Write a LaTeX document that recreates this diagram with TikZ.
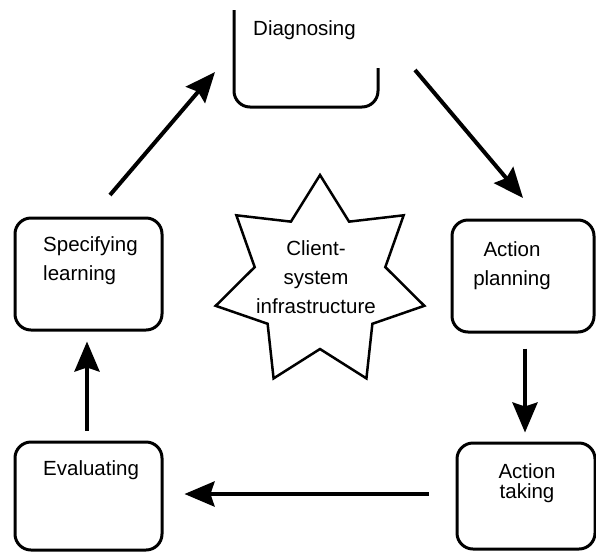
\documentclass[tikz,border=0pt]{standalone}
\usepackage{fontspec}
\setmainfont{Liberation Sans}
\usetikzlibrary{arrows.meta,calc}
\begin{document}
\begin{tikzpicture}[x=1pt,y=-1pt,
  box/.style={draw=black, line width=3pt, rounded corners=16pt, inner sep=0pt},
  txt/.style={inner sep=0pt, font=\fontsize{20.5}{29}\selectfont},
  flow/.style={line width=4pt, -{Stealth[length=30pt,width=25pt,inset=4pt]}},
  starline/.style={draw=black, line width=2.5pt, line join=miter}]
\useasboundingbox (0,0) rectangle (596,552);

% Diagnosing (open at the top)
\coordinate (dtl) at (234,10);
\coordinate (dbl) at (234,107);
\coordinate (dbr) at (378,107);
\coordinate (dtr) at (378,68);
\draw[line width=3pt, rounded corners=16pt] (dtl) -- (dbl) -- (dbr) -- (dtr);
\node[txt, anchor=base west] (diag) at (253,35) {Diagnosing};

% boxes
\node[box, minimum width=142pt, minimum height=112pt] (ap) at (523,276) {};
\node[box, minimum width=138pt, minimum height=106pt] (at) at (526,496) {};
\node[box, minimum width=147pt, minimum height=108pt] (ev) at (88.5,496) {};
\node[box, minimum width=147pt, minimum height=112pt] (sp) at (88.5,274) {};

\node[txt, align=center, anchor=base] (aptext) at (512,285) {Action\\planning};
\node[txt, align=center, anchor=base, font=\fontsize{20.5}{20}\selectfont] (attext) at (527,498) {Action\\taking};
\node[txt, anchor=base west] (evtext) at (43,475) {Evaluating};
\node[txt, align=left, anchor=base west] (sptext) at (43,280) {Specifying\\learning};

% star
\coordinate (starc) at (320,282);
\foreach \i in {0,...,13}{
  \pgfmathsetmacro\rr{ifthenelse(mod(\i,2)==0,107,67)}
  \coordinate (s\i) at ($(starc)+({270+\i*360/14}:\rr)$);
}
\draw[starline] (s0) -- (s1) -- (s2) -- (s3) -- (s4) -- (s5) -- (s6) -- (s7)
  -- (s8) -- (s9) -- (s10) -- (s11) -- (s12) -- (s13) -- cycle;
\node[txt, align=center, anchor=base] (startext) at (316,313) {Client-\\system\\infrastructure};

% arrows
\coordinate (a1s) at (415,70);
\coordinate (a1e) at (523,198);
\coordinate (a5s) at (110,195);
\coordinate (a5e) at (215,72);
\draw[flow] (a1s) -- (a1e);
\draw[flow, shorten <=15pt, shorten >=9pt] (ap.south -| 525,0) -- (at.north -| 525,0);
\draw[flow, shorten <=27pt, shorten >=21pt] (at.west |- 0,494) -- (ev.east |- 0,494);
\draw[flow, shorten <=10pt, shorten >=10pt] (ev.north -| 87,0) -- (sp.south -| 87,0);
\draw[flow] (a5s) -- (a5e);
\end{tikzpicture}
\end{document}
